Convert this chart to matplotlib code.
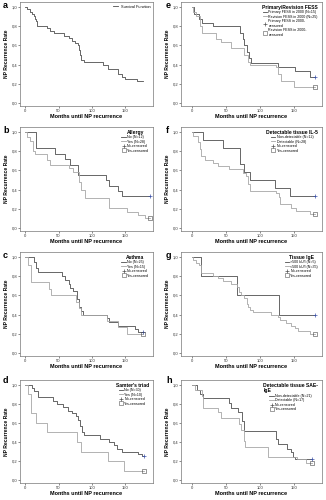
import matplotlib
matplotlib.use("Agg")
import matplotlib.pyplot as plt
from matplotlib.lines import Line2D
from matplotlib.ticker import FuncFormatter

plt.rcParams['font.family'] = ['Liberation Sans', 'DejaVu Sans']

# ---- data (months, NP recurrence rate) ----
a_t = [0, 2.5, 7.5, 10, 12.5, 14.5, 16, 17.5, 32.5, 37.5, 42.5, 57.5, 65, 70, 75, 78.5,
       80.5, 82.5, 84, 87.5, 117.5, 125, 140, 145, 150, 167.5, 177.5]
a_s = [1.0, 0.975, 0.95, 0.925, 0.90, 0.875, 0.85, 0.80, 0.775, 0.75, 0.725, 0.70, 0.675,
       0.65, 0.625, 0.60, 0.55, 0.50, 0.45, 0.425, 0.40, 0.35, 0.30, 0.275, 0.25, 0.225, 0.225]

b_no_t = [0, 16.3, 44, 59, 67.5, 79, 121, 126, 139, 145, 187]
b_no_s = [1.0, 0.83, 0.77, 0.72, 0.66, 0.55, 0.50, 0.44, 0.39, 0.33, 0.33]
b_yes_t = [0, 2.5, 7, 12, 15, 32, 37, 66, 72, 81, 84, 89, 126, 153, 170, 180, 187]
b_yes_s = [1.0, 0.95, 0.90, 0.80, 0.77, 0.71, 0.66, 0.62, 0.58, 0.48, 0.40, 0.31, 0.21,
           0.17, 0.14, 0.11, 0.11]

c_no_t = [0, 13.7, 16, 18.5, 55, 60, 65, 67, 72, 78, 81, 83, 87, 123, 126, 140, 165, 170, 177]
c_no_s = [1.0, 0.95, 0.88, 0.84, 0.80, 0.76, 0.72, 0.68, 0.64, 0.56, 0.48, 0.44, 0.40,
          0.36, 0.32, 0.28, 0.25, 0.22, 0.22]
c_yes_t = [0, 4.5, 9, 35, 38, 76, 80, 84, 123, 140, 153, 177]
c_yes_s = [1.0, 0.91, 0.74, 0.67, 0.60, 0.53, 0.47, 0.40, 0.33, 0.27, 0.20, 0.20]

d_no_t = [0, 10.6, 13, 19, 42, 47, 56.5, 64, 69.5, 76, 79, 82, 85.5, 88, 112, 126.5, 134,
          138.6, 146, 170, 175, 179]
d_no_s = [1.0, 0.97, 0.93, 0.87, 0.83, 0.80, 0.77, 0.73, 0.70, 0.67, 0.63, 0.57, 0.50,
          0.47, 0.43, 0.40, 0.37, 0.33, 0.30, 0.27, 0.25, 0.25]
d_yes_t = [0, 3.4, 8.2, 15.5, 32, 77, 83, 124, 148, 179]
d_yes_s = [1.0, 0.90, 0.70, 0.60, 0.50, 0.40, 0.30, 0.20, 0.10, 0.10]

e_pri_t = [0, 3.4, 10.8, 14.8, 30.5, 70, 75, 77, 81, 84, 87, 126.6, 151, 173, 181]
e_pri_s = [1.0, 0.93, 0.87, 0.83, 0.80, 0.73, 0.67, 0.60, 0.53, 0.47, 0.42, 0.37, 0.33,
           0.27, 0.27]
e_rev_t = [0, 2, 6, 12, 15, 35.5, 43, 57.6, 77, 82, 86, 124, 126.6, 131.5, 150, 181]
e_rev_s = [1.0, 0.95, 0.90, 0.80, 0.73, 0.67, 0.63, 0.57, 0.50, 0.43, 0.40, 0.37, 0.30,
           0.23, 0.17, 0.17]

f_non_t = [0, 16, 45.6, 70, 76.5, 85, 121.6, 143.6, 180]
f_non_s = [1.0, 0.92, 0.83, 0.67, 0.58, 0.50, 0.42, 0.33, 0.33]
f_det_t = [0, 1.5, 8.8, 11.3, 13.7, 18.6, 31, 38, 55, 75, 80, 83, 86, 124, 127.5, 130,
           146, 153, 173, 180]
f_det_s = [1.0, 0.96, 0.89, 0.82, 0.75, 0.71, 0.68, 0.64, 0.61, 0.57, 0.54, 0.46, 0.39,
           0.36, 0.32, 0.25, 0.21, 0.18, 0.15, 0.15]

g_hi_t = [0, 13.7, 66.7, 127.5, 180]
g_hi_s = [1.0, 0.80, 0.60, 0.40, 0.40]
g_lo_t = [0, 1.5, 6.4, 9.8, 12.7, 31, 39, 45.6, 58, 66.7, 69, 72.5, 76.5, 81, 83, 86, 90,
          116.7, 126.5, 129, 138.7, 146, 151, 156, 173, 180]
g_lo_s = [1.0, 0.97, 0.94, 0.91, 0.83, 0.80, 0.78, 0.75, 0.72, 0.69, 0.63, 0.60, 0.57,
          0.51, 0.48, 0.45, 0.43, 0.40, 0.37, 0.34, 0.31, 0.28, 0.26, 0.23, 0.20, 0.20]

h_non_t = [0, 7, 12, 16.7, 55, 57, 68, 73, 76, 124, 127, 140, 145, 149, 152, 176]
h_non_s = [1.0, 0.95, 0.90, 0.86, 0.81, 0.76, 0.71, 0.62, 0.52, 0.43, 0.38, 0.33, 0.29,
           0.24, 0.22, 0.22]
h_det_t = [0, 4.8, 14.3, 16.7, 38, 43, 69, 71.4, 76, 78.6, 112, 155, 167, 176]
h_det_s = [1.0, 0.94, 0.88, 0.76, 0.71, 0.65, 0.59, 0.53, 0.41, 0.35, 0.24, 0.22, 0.18, 0.18]

# panel titles / legend labels
titles = ['', 'Allergy', 'Asthma', "Samter's triad",
          'Primary/Revision FESS', 'Detectable tissue IL-5', 'Tissue IgE',
          'Detectable tissue SAE-\nIgE']
groups = [None,
          ['No (N=12)', 'Yes (N=28)', 'No-censored', 'Yes-censored'],
          ['No (N=25)', 'Yes (N=15)', 'No-censored', 'Yes-censored'],
          ['No (N=30)', 'Yes (N=10)', 'No-censored', 'Yes-censored'],
          ['Primary FESS in 2000 (N=15)', 'Revision FESS in 2000 (N=25)',
           'Primary FESS in 2000-\ncensored', 'Revision FESS in 2000-\ncensored'],
          ['Non-detectable (N=12)', 'Detectable (N=28)', 'No-censored', 'Yes-censored'],
          ['>500 kU/l (N=5)', '<500 kU/l (N=35)', 'No-censored', 'Yes-censored'],
          ['Non-detectable (N=21)', 'Detectable (N=17)', 'No-censored', 'Yes-censored']]
letters = list('abcdefgh')
curves = [[(a_t, a_s)],
          [(b_no_t, b_no_s), (b_yes_t, b_yes_s)],
          [(c_no_t, c_no_s), (c_yes_t, c_yes_s)],
          [(d_no_t, d_no_s), (d_yes_t, d_yes_s)],
          [(e_pri_t, e_pri_s), (e_rev_t, e_rev_s)],
          [(f_non_t, f_non_s), (f_det_t, f_det_s)],
          [(g_hi_t, g_hi_s), (g_lo_t, g_lo_s)],
          [(h_non_t, h_non_s), (h_det_t, h_det_s)]]

W, H = 326, 500
dark, light, plus_c = '#4d4d4d', '#a6a6a6', '#3c52a8'

fig = plt.figure(figsize=(W / 100, H / 100), dpi=100)
fmt = FuncFormatter(lambda v, p: ('%.1f' % v).replace('.', ','))

for i in range(8):
    col, row = i // 4, i % 4
    y0 = row * 125
    if col == 0:
        x_l, x_r, xlim = 20, 153, (-8, 192)
    else:
        x_l, x_r, xlim = 181, 322, (-16, 191)
    if row == 3:
        top, bot = y0 + 5, y0 + 108
    else:
        top, bot = y0 + 2, y0 + 106
    ax = fig.add_axes([x_l / W, 1 - bot / H, (x_r - x_l) / W, (bot - top) / H])
    ax.set_xlim(*xlim)
    ax.set_ylim(-0.03, 1.05)
    ax.set_xticks([0, 50, 100, 150])
    ax.set_yticks([0, 0.2, 0.4, 0.6, 0.8, 1.0])
    ax.yaxis.set_major_formatter(fmt)
    ax.tick_params(labelsize=3, length=1.2, width=0.4, pad=0.8, colors='#333333')
    for s in ax.spines.values():
        s.set_linewidth(0.5)
        s.set_color('#777777')
    ax.set_xlabel('Months until NP recurrence', fontsize=4, fontweight='bold',
                  labelpad=1.2)
    ax.set_ylabel('NP Recurrence Rate', fontsize=3.6, fontweight='bold', labelpad=2)

    cols = [dark, light]
    for k, (t, s) in enumerate(curves[i]):
        ax.plot(t, s, drawstyle='steps-post', color=cols[k], lw=0.6)
    if i == 0:
        hs = [Line2D([], [], color=dark, lw=0.6)]
        ax.legend(hs, ['Survival Function'], loc='upper right', fontsize=2.8,
                  frameon=False, handlelength=1.2, borderaxespad=0.3)
    else:
        t0, s0 = curves[i][0]
        t1, s1 = curves[i][1]
        ax.plot([t0[-1]], [s0[-1]], marker='+', color=plus_c, ms=2.5, mew=0.5)
        ax.plot([t1[-1]], [s1[-1]], marker='s', mfc='none', mec='#444444', ms=2.2,
                mew=0.4)
        hs = [Line2D([], [], color=dark, lw=0.6),
              Line2D([], [], color=light, lw=0.6),
              Line2D([], [], color='#555555', marker='+', lw=0, ms=2.5, mew=0.5),
              Line2D([], [], color='#555555', marker='s', mfc='none', lw=0, ms=2.2,
                     mew=0.4)]
        lg = ax.legend(hs, groups[i], title=titles[i], loc='upper right',
                       bbox_to_anchor=(0.99, 1.0), fontsize=2.6, title_fontsize=3.6,
                       frameon=False, handlelength=1.2, labelspacing=0.15,
                       borderaxespad=0.3, handletextpad=0.4)
        lg.get_title().set_fontweight('bold')
    fig.text((3 if col == 0 else 166) / W, 1 - (y0 + 1) / H, letters[i],
             fontsize=6.5, fontweight='bold', va='top', ha='left')

fig.savefig('out.png', dpi=100)
